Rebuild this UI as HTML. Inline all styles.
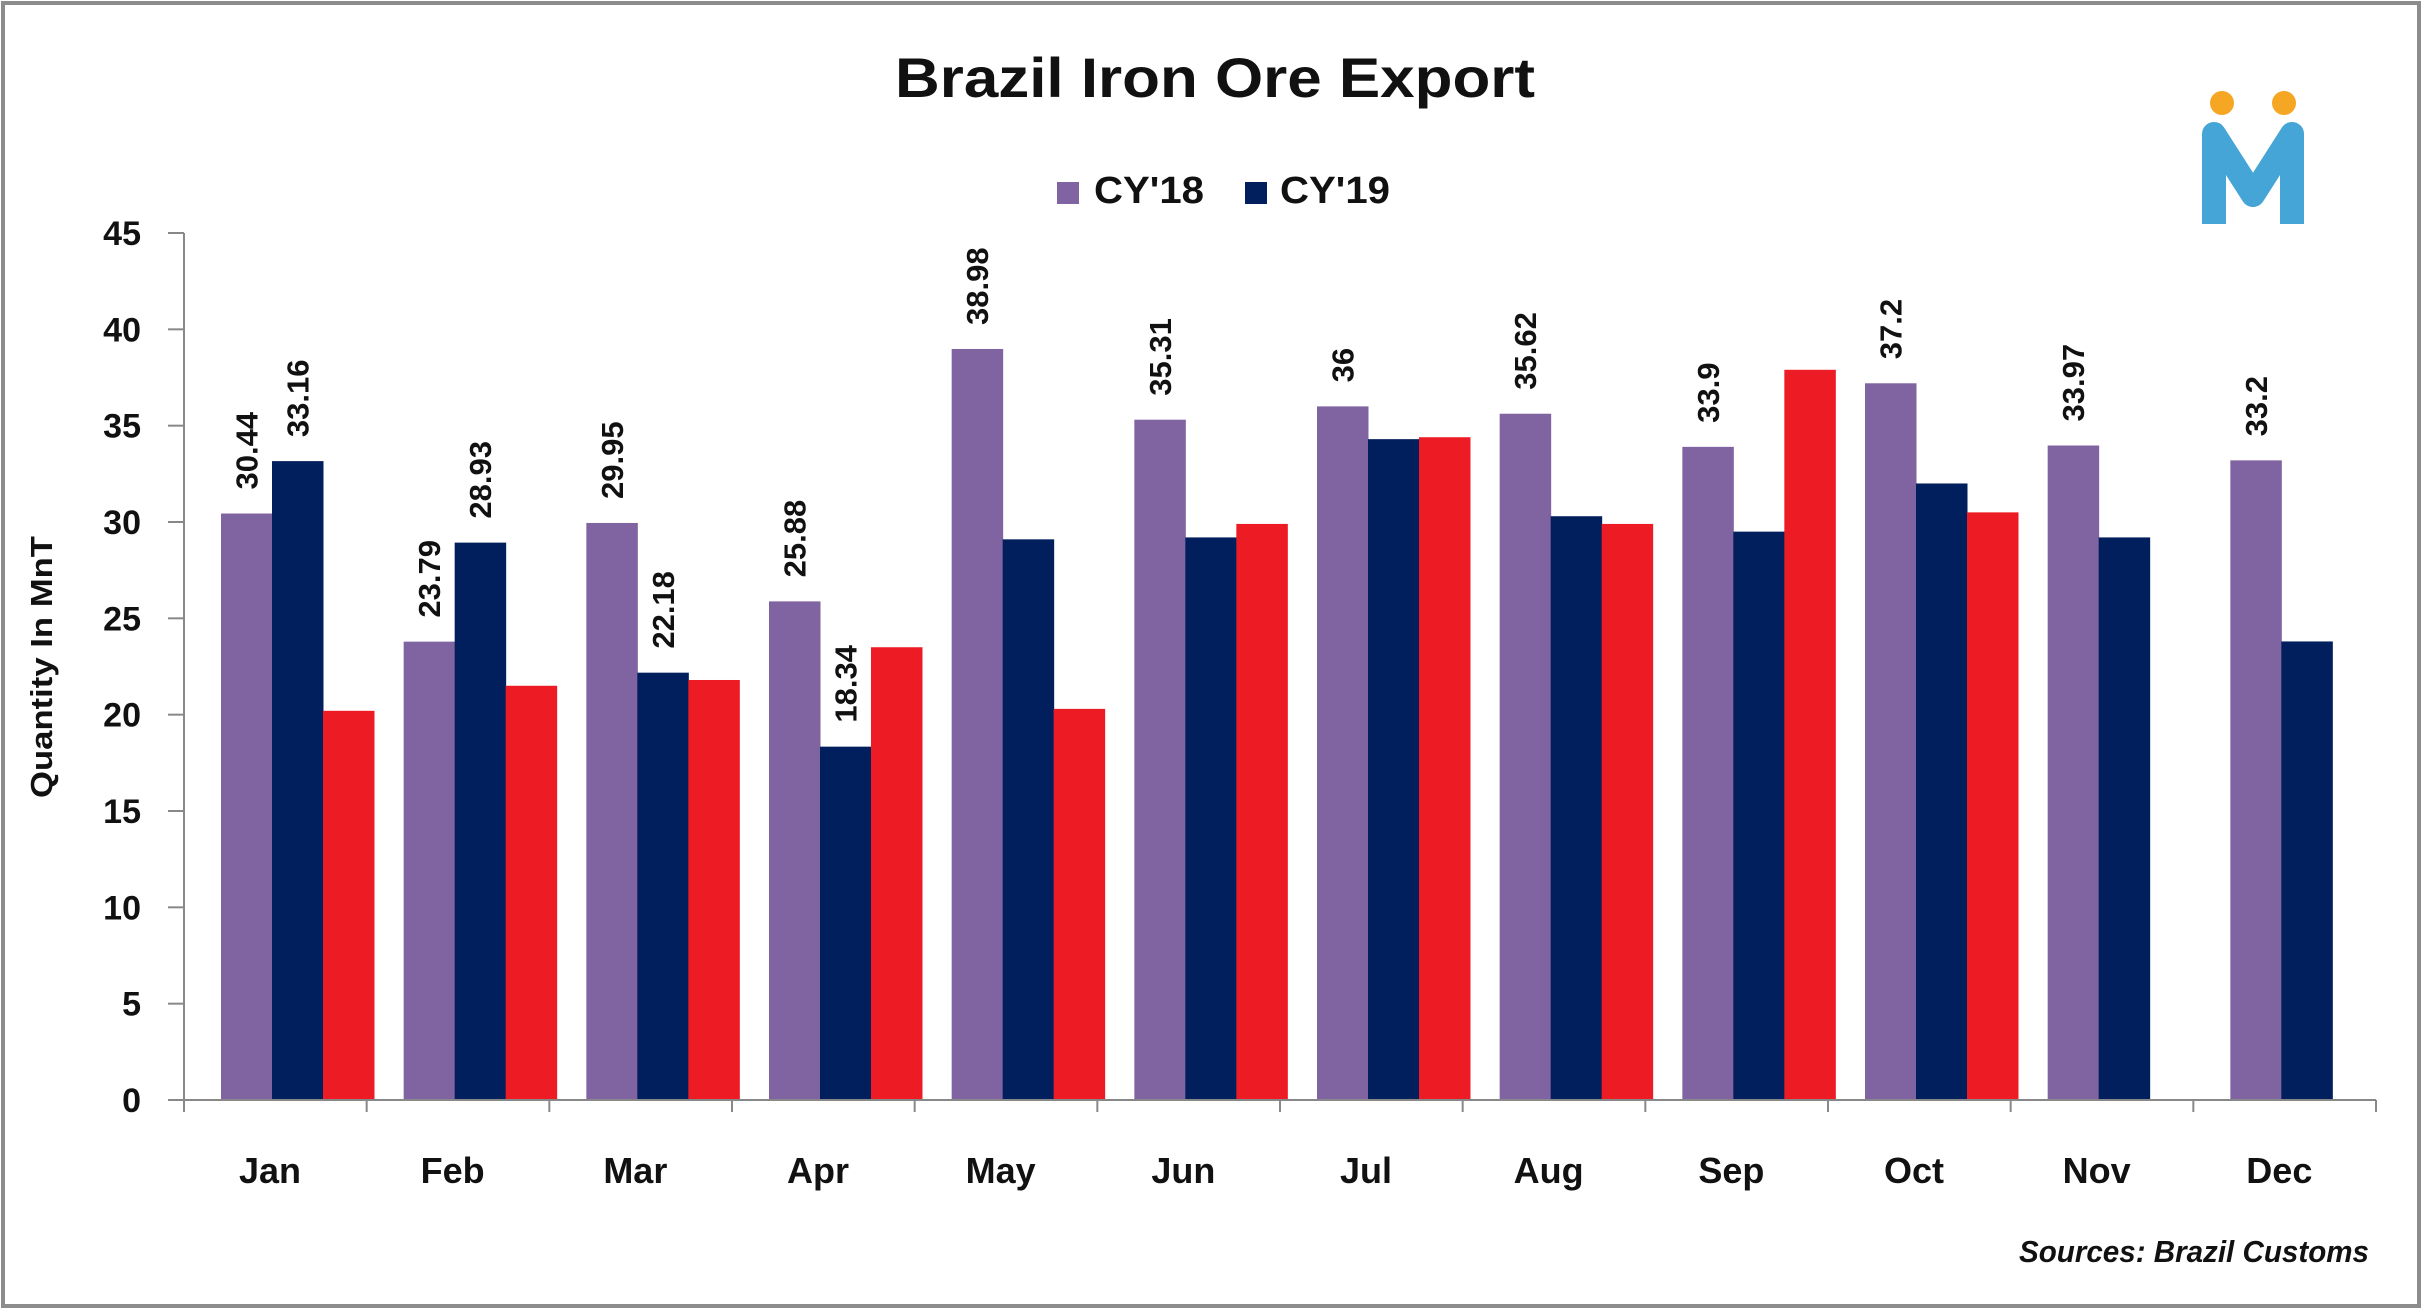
<!DOCTYPE html>
<html><head><meta charset="utf-8"><style>
html,body{margin:0;padding:0;background:#fff}
svg text{font-family:"Liberation Sans",sans-serif;font-weight:bold}
</style></head><body>
<svg width="2430" height="1311" viewBox="0 0 2430 1311" xmlns="http://www.w3.org/2000/svg">
<rect x="3" y="3" width="2416" height="1303" fill="#fff" stroke="#8c8c8c" stroke-width="4"/>
<text x="1215" y="97" text-anchor="middle" font-size="56" fill="#111" textLength="640" lengthAdjust="spacingAndGlyphs">Brazil Iron Ore Export</text>
<g>
<rect x="1057" y="182" width="22" height="22" fill="#8064a2"/>
<text x="1094" y="203" font-size="38" fill="#111" textLength="110" lengthAdjust="spacingAndGlyphs">CY'18</text>
<rect x="1245" y="182" width="22" height="22" fill="#001f5c"/>
<text x="1280" y="203" font-size="38" fill="#111" textLength="110" lengthAdjust="spacingAndGlyphs">CY'19</text>
</g>
<g>
<circle cx="2222" cy="103" r="12" fill="#f5a623"/>
<circle cx="2284" cy="103" r="12" fill="#f5a623"/>
<path d="M2214 224 V134 L2253 195 L2292 134 V224" fill="none" stroke="#45a5d6" stroke-width="24" stroke-linejoin="round"/>
</g>
<text transform="translate(52,667) rotate(-90)" text-anchor="middle" font-size="31" fill="#111" textLength="262" lengthAdjust="spacingAndGlyphs">Quantity In MnT</text>
<g id="plot"></g>
<text x="2369" y="1262" text-anchor="end" font-size="31" font-style="italic" fill="#111" textLength="350" lengthAdjust="spacingAndGlyphs">Sources: Brazil Customs</text>
</svg>
<script>
const months = ["Jan","Feb","Mar","Apr","May","Jun","Jul","Aug","Sep","Oct","Nov","Dec"];
const cy18 = [30.44,23.79,29.95,25.88,38.98,35.31,36,35.62,33.9,37.2,33.97,33.2];
const cy19 = [33.16,28.93,22.18,18.34,29.1,29.2,34.3,30.3,29.5,32.0,29.2,23.8];
const cy20 = [20.2,21.5,21.8,23.5,20.3,29.9,34.4,29.9,37.9,30.5,null,null];
const cy19Labels = ["33.16","28.93","22.18","18.34",null,null,null,null,null,null,null,null];
const cy18Labels = ["30.44","23.79","29.95","25.88","38.98","35.31","36","35.62","33.9","37.2","33.97","33.2"];
const yTicks = [0,5,10,15,20,25,30,35,40,45];

const NS="http://www.w3.org/2000/svg";
const g=document.getElementById('plot');
const X0=184, X1=2376, Y0=1100, Y1=233, YMAX=45;
const band=(X1-X0)/months.length;
const y=v=>Y0-(v/YMAX)*(Y0-Y1);
const bw=51, off=37;
function mk(t,a){const e=document.createElementNS(NS,t);for(const k in a)e.setAttribute(k,a[k]);g.appendChild(e);return e;}
yTicks.forEach(t=>{
  const l=mk('line',{x1:X0-16,x2:X0,y1:y(t),y2:y(t),stroke:'#888','stroke-width':2});
  
  
  const tx=mk('text',{x:141,y:y(t)+12,'text-anchor':'end','font-size':34,fill:'#111'});
  tx.textContent=t;
  
  
});
const series=[[cy18,'#8064a2','cy18',cy18Labels],[cy19,'#001f5c','cy19',cy19Labels],[cy20,'#ed1c24','cy20',null]];
months.forEach((m,i)=>{
  const tick=X0+i*band;
  series.forEach((s,j)=>{
    const v=s[0][i]; if(v==null) return;
    const bx=tick+off+j*bw;
    const r=mk('rect',{x:bx,y:y(v),width:bw+0.5,height:Y0-y(v),fill:s[1]});
    
    
    if(s[3]&&s[3][i]){
      const cx=bx+bw/2+11, cy=y(v)-24;
      const t=mk('text',{transform:`translate(${cx},${cy}) rotate(-90)`,'font-size':31,fill:'#111'});
      t.textContent=s[3][i];
      
      
    }
  });
  const lt=mk('text',{x:tick+86,y:1183,'text-anchor':'middle','font-size':36,fill:'#111'});
  lt.textContent=m;
  
  
});
for(let i=0;i<=months.length;i++){
  const l=mk('line',{x1:X0+i*band,x2:X0+i*band,y1:Y0,y2:Y0+12,stroke:'#888','stroke-width':2});
  
  
}
const ya=mk('line',{x1:X0,x2:X0,y1:Y1,y2:Y0+12,stroke:'#888','stroke-width':2});


const xa=mk('line',{x1:X0,x2:X1,y1:Y0,y2:Y0,stroke:'#888','stroke-width':2});


</script>
</body></html>
